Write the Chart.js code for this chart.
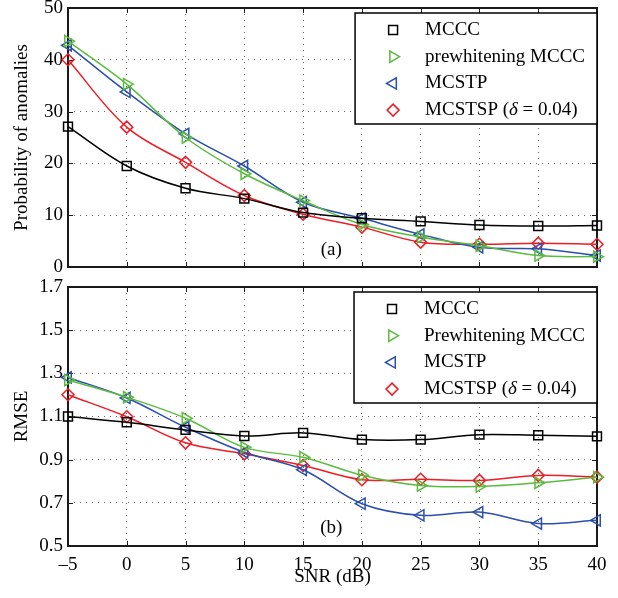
<!DOCTYPE html>
<html>
<head>
<meta charset="utf-8">
<script src="https://cdn.jsdelivr.net/npm/chart.js@4/dist/chart.umd.min.js"></script>
<style>
  body { margin: 0; background: #fff; }
  #wrap { position: relative; width: 618px; height: 598px; }
  #wrap canvas { position: absolute; left: 0; top: 0; }
</style>
</head>
<body>
<div id="wrap">
  <canvas id="topChart" width="618" height="598"></canvas>
  <canvas id="bottomChart" width="618" height="598"></canvas>
</div>
<script>
// SNR (dB) values on x
const snr = [-5, 0, 5, 10, 15, 20, 25, 30, 35, 40];
const xTicks = [-5, 0, 5, 10, 15, 20, 25, 30, 35, 40];

// (a) probability of anomalies
const mcccTop = [27.1, 19.5, 15.2, 13.2, 10.5, 9.4, 8.8, 8.1, 7.9, 8.0];
const prewTop = [43.6, 35.3, 25.0, 18.0, 12.8, 8.2, 5.8, 4.1, 2.2, 2.0];
const mcstpTop = [42.8, 33.8, 25.7, 19.5, 12.5, 9.4, 6.3, 3.8, 3.5, 2.2];
const mcstspTop = [40.0, 27.0, 20.2, 13.8, 10.2, 7.7, 4.8, 4.4, 4.6, 4.4];
const yTicksTop = [0, 10, 20, 30, 40, 50];

// (b) RMSE
const mcccBot = [1.100, 1.073, 1.038, 1.010, 1.024, 0.993, 0.993, 1.016, 1.013, 1.008];
const prewBot = [1.269, 1.189, 1.092, 0.957, 0.911, 0.828, 0.780, 0.776, 0.793, 0.819];
const mcstpBot = [1.281, 1.186, 1.050, 0.934, 0.853, 0.696, 0.642, 0.657, 0.604, 0.619];
const mcstspBot = [1.201, 1.099, 0.978, 0.927, 0.873, 0.807, 0.809, 0.804, 0.827, 0.819];
const yTicksBot = [0.5, 0.7, 0.9, 1.1, 1.3, 1.5, 1.7];

const labelsTop = ["MCCC", "prewhitening MCCC", "MCSTP", "MCSTSP (δ = 0.04)"];
const labelsBot = ["MCCC", "Prewhitening MCCC", "MCSTP", "MCSTSP (δ = 0.04)"];

const FAMILY = "'Liberation Serif', 'Times New Roman', serif";
const FSIZE = 19;

// series look
const styles = [
  { color: "#000000", pointStyle: "rect", radius: 6.3, rotation: 0 },
  { color: "#5bbb3f", pointStyle: "triangle", radius: 6.5, rotation: 90 },
  { color: "#2b4fae", pointStyle: "triangle", radius: 6.5, rotation: -90 },
  { color: "#ee1c24", pointStyle: "rectRot", radius: 6, rotation: 0 },
];

function makeDatasets(series, labels) {
  return series.map((vals, i) => ({
    label: labels[i],
    data: snr.map((x, k) => ({ x: x, y: vals[k] })),
    borderColor: styles[i].color,
    backgroundColor: "rgba(0,0,0,0)",
    borderWidth: 1.5,
    pointStyle: styles[i].pointStyle,
    pointRotation: styles[i].rotation,
    pointRadius: styles[i].radius,
    pointBorderWidth: 1.5,
    pointBackgroundColor: "rgba(0,0,0,0)",
    pointBorderColor: styles[i].color,
    tension: 0.35,
    clip: false,
  }));
}

// label text, delta drawn in italic
function labelParts(text) {
  const idx = text.indexOf("δ");
  if (idx < 0) return [{ t: text, it: false }];
  return [
    { t: text.slice(0, idx), it: false },
    { t: "δ", it: true },
    { t: text.slice(idx + 1), it: false },
  ];
}
function setFont(ctx, italic) {
  ctx.font = (italic ? "italic " : "") + FSIZE + "px " + FAMILY;
}
function measureLabel(ctx, text) {
  let w = 0;
  labelParts(text).forEach((p) => { setFont(ctx, p.it); w += ctx.measureText(p.t).width; });
  return w;
}
function drawLabel(ctx, text, x, y) {
  labelParts(text).forEach((p) => {
    setFont(ctx, p.it);
    ctx.fillText(p.t, x, y);
    x += ctx.measureText(p.t).width;
  });
}

// box round the plot with inward ticks on all four sides
const boxPlugin = {
  id: "boxAxes",
  beforeDatasetsDraw(chart) {
    const { ctx, chartArea: a, scales } = chart;
    ctx.save();
    ctx.strokeStyle = "#1a1a1a";
    ctx.lineWidth = 1;
    const tl = 5;
    ctx.beginPath();
    scales.x.ticks.forEach((t) => {
      const px = Math.round(scales.x.getPixelForValue(t.value)) + 0.5;
      ctx.moveTo(px, a.bottom); ctx.lineTo(px, a.bottom - tl);
      ctx.moveTo(px, a.top); ctx.lineTo(px, a.top + tl);
    });
    scales.y.ticks.forEach((t) => {
      const py = Math.round(scales.y.getPixelForValue(t.value)) + 0.5;
      ctx.moveTo(a.left, py); ctx.lineTo(a.left + tl, py);
      ctx.moveTo(a.right, py); ctx.lineTo(a.right - tl, py);
    });
    ctx.stroke();
    ctx.lineWidth = 2;
    ctx.strokeRect(a.left, a.top, a.right - a.left, a.bottom - a.top);
    ctx.restore();
  },
};

// legend box in the upper right corner + panel tag
const legendPlugin = {
  id: "boxLegend",
  afterDraw(chart, args, opts) {
    const { ctx, chartArea: a } = chart;
    const sets = chart.data.datasets;
    ctx.save();
    const tw = Math.max(...sets.map((d) => measureLabel(ctx, d.label)));
    const w = 70 + tw + 12;
    const h = 111;
    const x0 = a.right - w;
    const y0 = a.top + 5;
    ctx.fillStyle = "#fff";
    ctx.fillRect(x0, y0, w, h);
    ctx.lineWidth = 1.5;
    ctx.strokeStyle = "#000";
    ctx.strokeRect(x0, y0, w, h);
    sets.forEach((d, i) => {
      const cy = y0 + 17 + i * 26.7;
      ctx.strokeStyle = d.borderColor;
      ctx.fillStyle = "rgba(0,0,0,0)";
      ctx.lineWidth = d.pointBorderWidth;
      Chart.helpers.drawPoint(ctx, {
        pointStyle: d.pointStyle,
        rotation: d.pointRotation,
        radius: d.pointRadius,
        borderWidth: d.pointBorderWidth,
      }, x0 + 38, cy);
      ctx.fillStyle = "#000";
      ctx.textBaseline = "middle";
      ctx.textAlign = "left";
      drawLabel(ctx, d.label, x0 + 70, cy);
    });
    // (a) / (b)
    setFont(ctx, false);
    ctx.fillStyle = "#000";
    ctx.textAlign = "center";
    ctx.textBaseline = "middle";
    ctx.fillText(opts.tag, chart.scales.x.getPixelForValue(opts.tagX), chart.scales.y.getPixelForValue(opts.tagY));
    ctx.restore();
  },
};

function xScale(showLabels) {
  return {
    type: "linear",
    min: -5,
    max: 40,
    afterBuildTicks: (s) => { s.ticks = xTicks.map((v) => ({ value: v })); },
    afterFit: (s) => {
      s.height = showLabels ? 42 : 0;
      s.paddingLeft = 0; s.paddingRight = 0;
    },
    grid: { color: "rgba(0,0,0,0.6)", lineWidth: 1, drawTicks: false },
    border: { display: false, dash: [1, 5] },
    ticks: {
      display: showLabels,
      padding: 8,
      color: "#000",
      font: { family: FAMILY, size: FSIZE },
      callback: (v) => (v < 0 ? "\u2013" + Math.abs(v) : String(v)),
    },
    title: {
      display: showLabels,
      text: "SNR (dB)",
      color: "#000",
      padding: 0,
      font: { family: FAMILY, size: FSIZE },
    },
  };
}

function yScale(min, max, ticks, digits, title) {
  return {
    type: "linear",
    min: min,
    max: max,
    afterBuildTicks: (s) => { s.ticks = ticks.map((v) => ({ value: v })); },
    afterFit: (s) => {
      s.width = 57;
      s.paddingTop = 0; s.paddingBottom = 0;
    },
    grid: { color: "rgba(0,0,0,0.6)", lineWidth: 1, drawTicks: false },
    border: { display: false, dash: [1, 5] },
    ticks: {
      padding: 5,
      color: "#000",
      font: { family: FAMILY, size: FSIZE },
      callback: (v) => v.toFixed(digits),
    },
    title: {
      display: true,
      text: title,
      color: "#000",
      padding: 0,
      font: { family: FAMILY, size: FSIZE },
    },
  };
}

function baseOptions(padding, xs, ys, tag) {
  return {
    responsive: false,
    animation: false,
    devicePixelRatio: 1,
    layout: { padding: padding },
    scales: { x: xs, y: ys },
    plugins: {
      legend: { display: false },
      tooltip: { enabled: false },
      boxLegend: tag,
    },
  };
}

new Chart(document.getElementById("topChart"), {
  type: "line",
  data: { datasets: makeDatasets([mcccTop, prewTop, mcstpTop, mcstspTop], labelsTop) },
  options: baseOptions(
    { left: 11, top: 5, right: 21, bottom: 331 },
    xScale(false),
    yScale(0, 50, yTicksTop, 0, "Probability of anomalies"),
    { tag: "(a)", tagX: 17.4, tagY: 3.2 }
  ),
  plugins: [boxPlugin, legendPlugin],
});

new Chart(document.getElementById("bottomChart"), {
  type: "line",
  data: { datasets: makeDatasets([mcccBot, prewBot, mcstpBot, mcstspBot], labelsBot) },
  options: baseOptions(
    { left: 11, top: 287, right: 21, bottom: 10 },
    xScale(true),
    yScale(0.5, 1.7, yTicksBot, 1, "RMSE"),
    { tag: "(b)", tagX: 17.4, tagY: 0.585 }
  ),
  plugins: [boxPlugin, legendPlugin],
});
</script>
</body>
</html>
